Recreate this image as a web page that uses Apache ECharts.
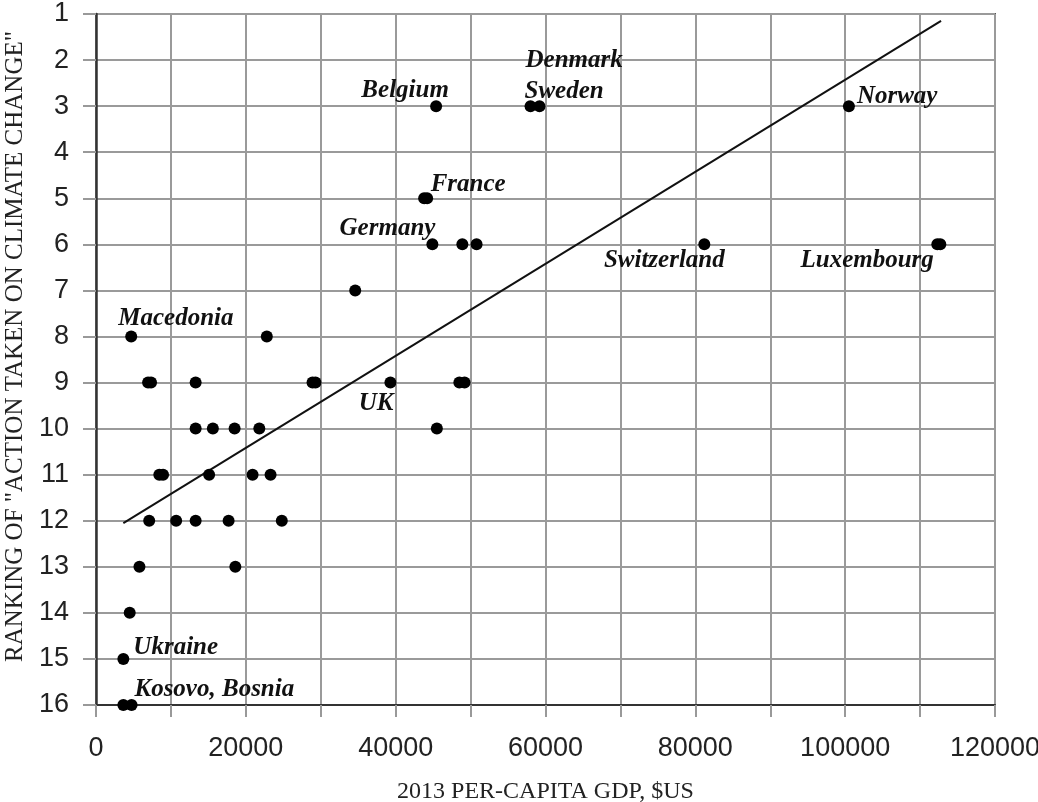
<!DOCTYPE html>
<html>
<head>
<meta charset="utf-8">
<script src="https://cdn.jsdelivr.net/npm/echarts@6/dist/echarts.min.js"></script>
<style>
html, body { margin: 0; padding: 0; background: #fff; }
#chart { width: 1038px; height: 802px; }
</style>
</head>
<body>
<div id="chart"></div>
<script>
// GDP per capita (x) and climate action ranking (y)
var gdp = [
    45400, 58000, 59200, 100500,
    43800, 44200,
    44900, 48900, 50800, 81200, 112300, 112700,
    34600,
    4700, 22800,
    6950, 7350, 13300, 28900, 29300, 39300, 48500, 49200,
    13300, 15600, 18500, 21800, 45500,
    8450, 8950, 15100, 20900, 23300,
    7100, 10700, 13300, 17700, 24800,
    5800, 18600,
    4500,
    3650,
    3650, 4750
];
var rank = [
    3, 3, 3, 3,
    5, 5,
    6, 6, 6, 6, 6, 6,
    7,
    8, 8,
    9, 9, 9, 9, 9, 9, 9, 9,
    10, 10, 10, 10, 10,
    11, 11, 11, 11, 11,
    12, 12, 12, 12, 12,
    13, 13,
    14,
    15,
    16, 16
];

// regression line end points
var trendX = [3650, 112800];
var trendY = [12.05, 1.15];

// labelled countries and the point each label belongs to
var labelNames = ['Belgium', 'Denmark', 'Sweden', 'Norway', 'France', 'Germany',
    'Switzerland', 'Luxembourg', 'Macedonia', 'UK', 'Ukraine', 'Kosovo, Bosnia'];
var labelX = [45400, 58000, 59200, 100500, 44000, 44900, 81200, 112500, 4700, 39300, 3650, 4200];
var labelY = [3, 3, 3, 3, 5, 6, 6, 6, 8, 9, 15, 16];

var yTicks = [1, 16, 1];        // min, max, step
var xTicks = [0, 120000, 10000]; // min, max, step (labels every 20000)

// where each label sits relative to its point (pixels)
var labelPlace = {
    'Belgium':        { align: 'center', offset: [-31, -16] },
    'Denmark':        { align: 'left',   offset: [-5, -46] },
    'Sweden':         { align: 'left',   offset: [-15, -15] },
    'Norway':         { align: 'left',   offset: [8, -10] },
    'France':         { align: 'left',   offset: [5, -14] },
    'Germany':        { align: 'right',  offset: [3, -16] },
    'Switzerland':    { align: 'center', offset: [-40, 16] },
    'Luxembourg':     { align: 'right',  offset: [-5, 16] },
    'Macedonia':      { align: 'left',   offset: [-13, -18] },
    'UK':             { align: 'right',  offset: [3, 21] },
    'Ukraine':        { align: 'left',   offset: [10, -11] },
    'Kosovo, Bosnia': { align: 'left',   offset: [7, -15] }
};

var chart = echarts.init(document.getElementById('chart'));

var points = gdp.map(function (x, i) { return [x, rank[i]]; });
var trend = trendX.map(function (x, i) { return [x, trendY[i]]; });
var labels = labelNames.map(function (name, i) {
    var p = labelPlace[name];
    return {
        name: name,
        value: [labelX[i], labelY[i]],
        label: { align: p.align, offset: p.offset }
    };
});

var option = {
    animation: false,
    backgroundColor: '#fff',
    grid: {
        left: 96,
        top: 14,
        right: 43,
        bottom: 97,
        outerBoundsMode: 'none',
        containLabel: false,
        show: true,
        borderColor: '#555',
        borderWidth: 2
    },
    xAxis: {
        type: 'value',
        min: xTicks[0],
        max: xTicks[1],
        interval: xTicks[2],
        name: '2013 PER-CAPITA GDP, $US',
        nameLocation: 'middle',
        nameGap: 75,
        nameTextStyle: {
            fontFamily: 'Liberation Serif',
            fontSize: 24,
            color: '#222'
        },
        axisLine: { lineStyle: { color: '#333', width: 2 } },
        axisTick: { show: true, length: 12, lineStyle: { color: '#999', width: 2 } },
        axisLabel: {
            margin: 30,
            fontFamily: 'Liberation Sans',
            fontSize: 27,
            color: '#222',
            formatter: function (v) { return v % 20000 === 0 ? String(v) : ''; }
        },
        splitLine: { show: true, lineStyle: { color: '#9a9a9a', width: 2 } }
    },
    yAxis: {
        type: 'value',
        inverse: true,
        min: yTicks[0],
        max: yTicks[1],
        interval: yTicks[2],
        name: 'RANKING OF "ACTION TAKEN ON CLIMATE CHANGE"',
        nameLocation: 'middle',
        nameGap: 66,
        nameTextStyle: {
            fontFamily: 'Liberation Serif',
            fontSize: 25,
            color: '#222',
            padding: [0, 0, 0, 26]
        },
        axisLine: { show: true, lineStyle: { color: '#333', width: 2.5 } },
        axisTick: { show: true, length: 13, lineStyle: { color: '#999', width: 2 } },
        axisLabel: {
            margin: 27,
            fontFamily: 'Liberation Sans',
            fontSize: 27,
            color: '#222'
        },
        splitLine: { show: true, lineStyle: { color: '#9a9a9a', width: 2 } }
    },
    series: [
        {
            type: 'line',
            data: trend,
            symbol: 'none',
            lineStyle: { color: '#111', width: 2 },
            z: 3
        },
        {
            type: 'scatter',
            data: points,
            symbol: 'circle',
            symbolSize: 12,
            itemStyle: { color: '#000', opacity: 1 },
            z: 4
        },
        {
            type: 'scatter',
            data: labels,
            symbolSize: 0,
            silent: true,
            itemStyle: { opacity: 1 },
            label: {
                show: true,
                position: 'inside',
                formatter: '{b}',
                fontFamily: 'Liberation Serif',
                fontStyle: 'italic',
                fontWeight: 'bold',
                fontSize: 25,
                color: '#111'
            },
            z: 5
        }
    ]
};

chart.setOption(option);
</script>
</body>
</html>
